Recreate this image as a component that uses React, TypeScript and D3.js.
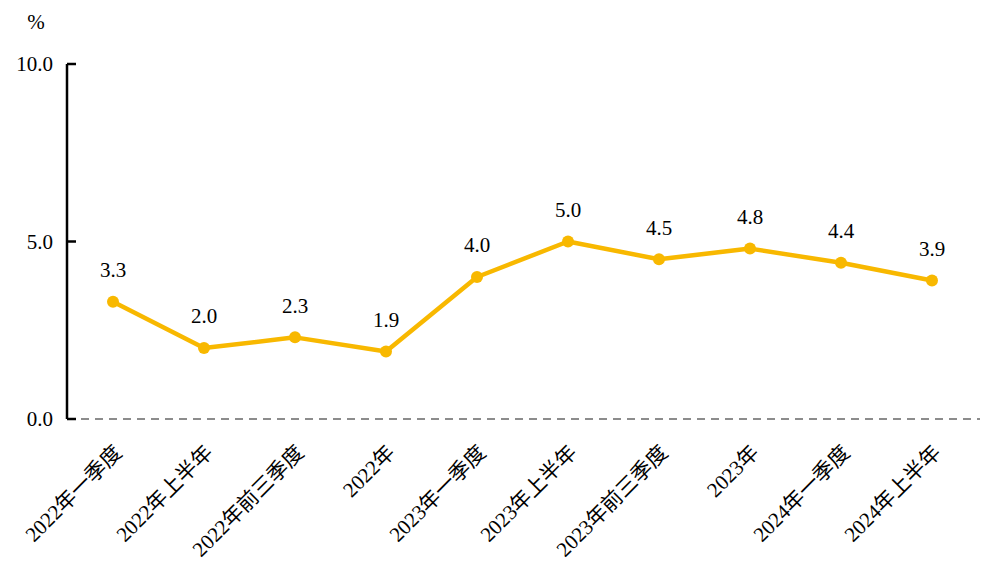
import React from "react";
import * as d3 from "d3";

const categories = [
  "2022年一季度",
  "2022年上半年",
  "2022年前三季度",
  "2022年",
  "2023年一季度",
  "2023年上半年",
  "2023年前三季度",
  "2023年",
  "2024年一季度",
  "2024年上半年",
];
const values = [3.3, 2.0, 2.3, 1.9, 4.0, 5.0, 4.5, 4.8, 4.4, 3.9];
const yTicks = [0, 5, 10];

const W = 992;
const H = 587;
const FONT = "'Liberation Serif', 'Times New Roman', 'Noto Sans CJK SC', serif";

export default function App() {
  const x = d3
    .scalePoint<string>()
    .domain(categories)
    .range([113, 932]);
  const y = d3.scaleLinear().domain([0, 10]).range([419, 64]);
  const line = d3
    .line<number>()
    .x((_, i) => x(categories[i]) as number)
    .y((d) => y(d));
  const color = "#F8B800";
  const axisX = 67;

  return (
    <svg
      width={W}
      height={H}
      style={{ position: "absolute", left: 0, top: 0, background: "#fff" }}
      fontFamily={FONT}
    >
      <text x={36} y={22} dy="0.35em" fontSize={21} textAnchor="middle" fill="#000">
        %
      </text>
      {/* dashed zero line */}
      <line
        x1={axisX}
        x2={980}
        y1={y(0)}
        y2={y(0)}
        stroke="#8c8c8c"
        strokeWidth={2}
        strokeDasharray="8,6"
      />
      {/* y axis */}
      <line x1={axisX} x2={axisX} y1={y(10)} y2={y(0)} stroke="#000" strokeWidth={2.5} />
      {yTicks.map((t) => (
        <g key={t}>
          <line x1={axisX} x2={axisX + 9} y1={y(t)} y2={y(t)} stroke="#000" strokeWidth={2.5} />
          <text
            x={53}
            y={y(t)}
            dy="0.35em"
            fontSize={21}
            textAnchor="end"
            fill="#000"
          >
            {d3.format(".1f")(t)}
          </text>
        </g>
      ))}
      {/* line */}
      <path d={line(values) || ""} fill="none" stroke={color} strokeWidth={4.5} strokeLinejoin="round" />
      {values.map((v, i) => (
        <circle key={i} cx={x(categories[i])} cy={y(v)} r={6} fill={color} />
      ))}
      {values.map((v, i) => (
        <text
          key={"l" + i}
          x={x(categories[i])}
          y={y(v) - 32}
          dy="0.35em"
          fontSize={21}
          textAnchor="middle"
          fill="#000"
        >
          {d3.format(".1f")(v)}
        </text>
      ))}
      {/* category labels */}
      {categories.map((c) => {
        const cx = (x(c) as number) + 10;
        const cy = 454;
        return (
          <text
            key={c}
            x={cx}
            y={cy}
            fontSize={21}
            textAnchor="end"
            fill="#000"
            transform={`rotate(-45 ${cx} ${cy})`}
          >
            {c}
          </text>
        );
      })}
    </svg>
  );
}
